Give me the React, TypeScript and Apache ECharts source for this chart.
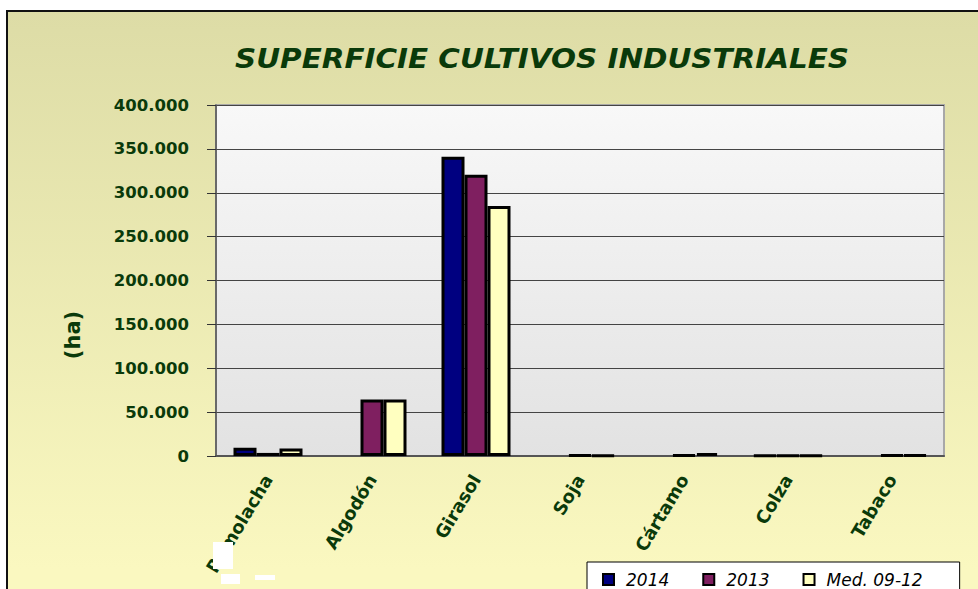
import React, { useEffect, useRef } from "react";
import * as echarts from "echarts";

const categories = ["Remolacha", "Algodón", "Girasol", "Soja", "Cártamo", "Colza", "Tabaco"];
const s2014 = [9500, 0, 341000, 0, 0, 700, 0];
const s2013 = [3500, 64500, 320500, 900, 1000, 700, 1000];
const sMed = [8500, 64500, 285000, 800, 3200, 700, 1000];
const seriesNames = ["2014", "2013", "Med. 09-12"];
const yTicks = { min: 0, max: 400000, interval: 50000 };
const titleText = "SUPERFICIE CULTIVOS INDUSTRIALES";
const yName = "(ha)";

const GREEN = "#0a3a0a";
const FONT = "'DejaVu Sans', Arial, sans-serif";

const fmt = (v: number) => String(v).replace(/\B(?=(\d{3})+(?!\d))/g, ".");
const clean = (arr: number[]) => arr.map((v) => (v === 0 ? null : v));

export default function App() {
  const ref = useRef<HTMLDivElement>(null);
  useEffect(() => {
    if (!ref.current) return;
    const chart = echarts.init(ref.current, undefined, { renderer: "svg" });
    const colors = ["#000080", "#7f1f60", "#ffffc0"];
    const series = [s2014, s2013, sMed].map((d, i) => ({
      name: seriesNames[i],
      type: "bar",
      data: clean(d),
      barWidth: 23,
      barGap: "0%",
      itemStyle: { color: colors[i], borderColor: "#000", borderWidth: 3 },
    }));
    chart.setOption({
      animation: false,
      backgroundColor: "#ffffff",
      grid: {
        left: 216,
        top: 105,
        width: 728,
        height: 351,
        show: true,
        backgroundColor: new echarts.graphic.LinearGradient(0, 0, 0, 1, [
          { offset: 0, color: "#f8f8f8" },
          { offset: 1, color: "#e2e2e2" },
        ]),
        borderColor: "#a8a8a8",
        borderWidth: 2,
      },
      xAxis: {
        type: "category",
        data: categories,
        axisLine: { lineStyle: { color: "#555", width: 2 } },
        axisTick: { length: 8, lineStyle: { color: "#444" } },
        axisLabel: {
          rotate: 59,
          margin: 20,
          color: GREEN,
          fontFamily: FONT,
          fontWeight: "bold",
          fontSize: 18,
        },
      },
      yAxis: {
        type: "value",
        min: yTicks.min,
        max: yTicks.max,
        interval: yTicks.interval,
        axisLine: { show: true, lineStyle: { color: "#555", width: 1.5 } },
        axisTick: { show: true, length: 9, lineStyle: { color: "#333" } },
        splitLine: { lineStyle: { color: "#444", width: 1 } },
        axisLabel: {
          formatter: (v: number) => fmt(v),
          margin: 27,
          color: GREEN,
          fontFamily: FONT,
          fontWeight: "bold",
          fontSize: 16.5,
        },
      },
      legend: {
        data: seriesNames,
        left: 587,
        top: 562,
        orient: "horizontal",
        backgroundColor: "#ffffff",
        borderColor: "#000",
        borderWidth: 1,
        padding: [9, 37, 12, 15],
        itemGap: 33,
        itemWidth: 11,
        itemHeight: 11,
        icon: "rect",
        textStyle: {
          color: "#000",
          fontFamily: FONT,
          fontStyle: "italic",
          fontSize: 17,
          padding: [0, 0, 0, 7],
        },
      },
      graphic: [
        {
          type: "rect",
          z: -100,
          silent: true,
          shape: { x: 7, y: 11, width: 1000, height: 620 },
          style: {
            fill: new echarts.graphic.LinearGradient(0, 0, 0, 1, [
              { offset: 0, color: "#dddca6" },
              { offset: 0.9, color: "#faf8c0" },
              { offset: 1, color: "#faf8c0" },
            ]),
            stroke: "#111",
            lineWidth: 2,
          },
        },
        {
          type: "text",
          z: 100,
          x: 542,
          y: 59,
          scaleX: 1.09,
          style: {
            text: titleText,
            fill: GREEN,
            font: `italic bold 27px ${FONT}`,
            align: "center",
            verticalAlign: "middle",
          },
        },
        {
          type: "text",
          z: 100,
          x: 73,
          y: 335,
          rotation: Math.PI / 2,
          style: {
            text: yName,
            fill: GREEN,
            font: `bold 21px ${FONT}`,
            align: "center",
            verticalAlign: "middle",
          },
        },
        { type: "rect", z: 100, silent: true, shape: { x: 213, y: 542, width: 20, height: 27 }, style: { fill: "#fff" } },
        { type: "rect", z: 100, silent: true, shape: { x: 221, y: 574, width: 19, height: 10 }, style: { fill: "#fff" } },
        { type: "rect", z: 100, silent: true, shape: { x: 255, y: 575, width: 20, height: 5 }, style: { fill: "#fff" } },
      ],
      series,
    });
    return () => chart.dispose();
  }, []);
  return (
    <div
      ref={ref}
      style={{ position: "fixed", left: 0, top: 0, width: 978, height: 589 }}
    />
  );
}
